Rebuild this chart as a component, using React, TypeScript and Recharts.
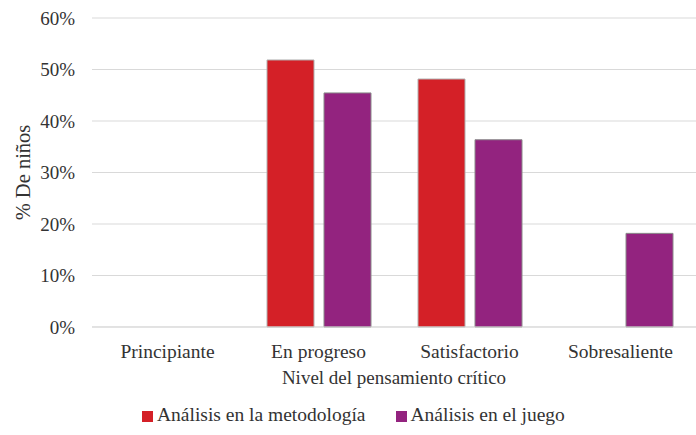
import { BarChart, Bar, XAxis, YAxis, CartesianGrid, Legend } from 'recharts';

const categories = ['Principiante', 'En progreso', 'Satisfactorio', 'Sobresaliente'];
const metodologia = [0, 51.85, 48.15, 0];
const juego = [0, 45.45, 36.36, 18.18];
const yTicks = [0, 10, 20, 30, 40, 50, 60];

const RED = '#d42027';
const PURPLE = '#93237f';
const FONT = 'Liberation Serif';

const data = categories.map((name, i) => ({
    name,
    metodologia: metodologia[i],
    juego: juego[i],
}));

function LegendBox() {
    const items = [
        { label: 'Análisis en la metodología', color: RED },
        { label: 'Análisis en el juego', color: PURPLE },
    ];
    return (
        <div style={{ display: 'flex', paddingLeft: 142, paddingTop: 2, fontFamily: FONT, fontSize: 19.5, color: '#333' }}>
            {items.map((it) => (
                <div key={it.label} style={{ display: 'flex', alignItems: 'center', marginRight: 30 }}>
                    <span style={{ width: 11, height: 11, background: it.color, marginRight: 4, marginTop: 2, display: 'inline-block' }} />
                    <span>{it.label}</span>
                </div>
            ))}
        </div>
    );
}

export default function App() {
    return (
        <div style={{ position: 'absolute', left: 0, top: 0, background: '#fff', fontFamily: FONT }}>
            <BarChart
                width={696}
                height={435}
                data={data}
                margin={{ top: 18, right: 0, left: 0, bottom: 0 }}
                barCategoryGap="15%"
                barGap={10}
                style={{ fontFamily: FONT }}
            >
                <CartesianGrid vertical={false} stroke="#d9d9d9" strokeWidth={1} />
                <XAxis
                    dataKey="name"
                    axisLine={{ stroke: '#d9d9d9' }}
                    tickLine={false}
                    tickSize={0}
                    tickMargin={17}
                    height={75}
                    tick={{ fill: '#333', fontSize: 19.5, fontFamily: FONT }}
                    label={{
                        value: 'Nivel del pensamiento crítico',
                        position: 'insideBottom',
                        offset: 18,
                        fill: '#333',
                        fontSize: 19,
                        fontFamily: FONT,
                    }}
                />
                <YAxis
                    domain={[0, 60]}
                    ticks={yTicks}
                    width={92}
                    axisLine={false}
                    tickLine={false}
                    tickSize={0}
                    tickMargin={17}
                    tickFormatter={(v) => `${v}%`}
                    tick={{ fill: '#333', fontSize: 19, fontFamily: FONT }}
                    label={{
                        value: '% De niños',
                        angle: -90,
                        position: 'insideLeft',
                        offset: 23,
                        style: { textAnchor: 'middle' },
                        fill: '#333',
                        fontSize: 20.5,
                        fontFamily: FONT,
                    }}
                />
                <Legend verticalAlign="bottom" height={33} content={<LegendBox />} />
                <Bar
                    dataKey="metodologia"
                    name="Análisis en la metodología"
                    fill={RED}
                    stroke="#b0b0b0"
                    strokeWidth={1}
                    barSize={47}
                    isAnimationActive={false}
                />
                <Bar
                    dataKey="juego"
                    name="Análisis en el juego"
                    fill={PURPLE}
                    stroke="#8a8a8a"
                    strokeWidth={1}
                    barSize={47}
                    isAnimationActive={false}
                />
            </BarChart>
        </div>
    );
}
